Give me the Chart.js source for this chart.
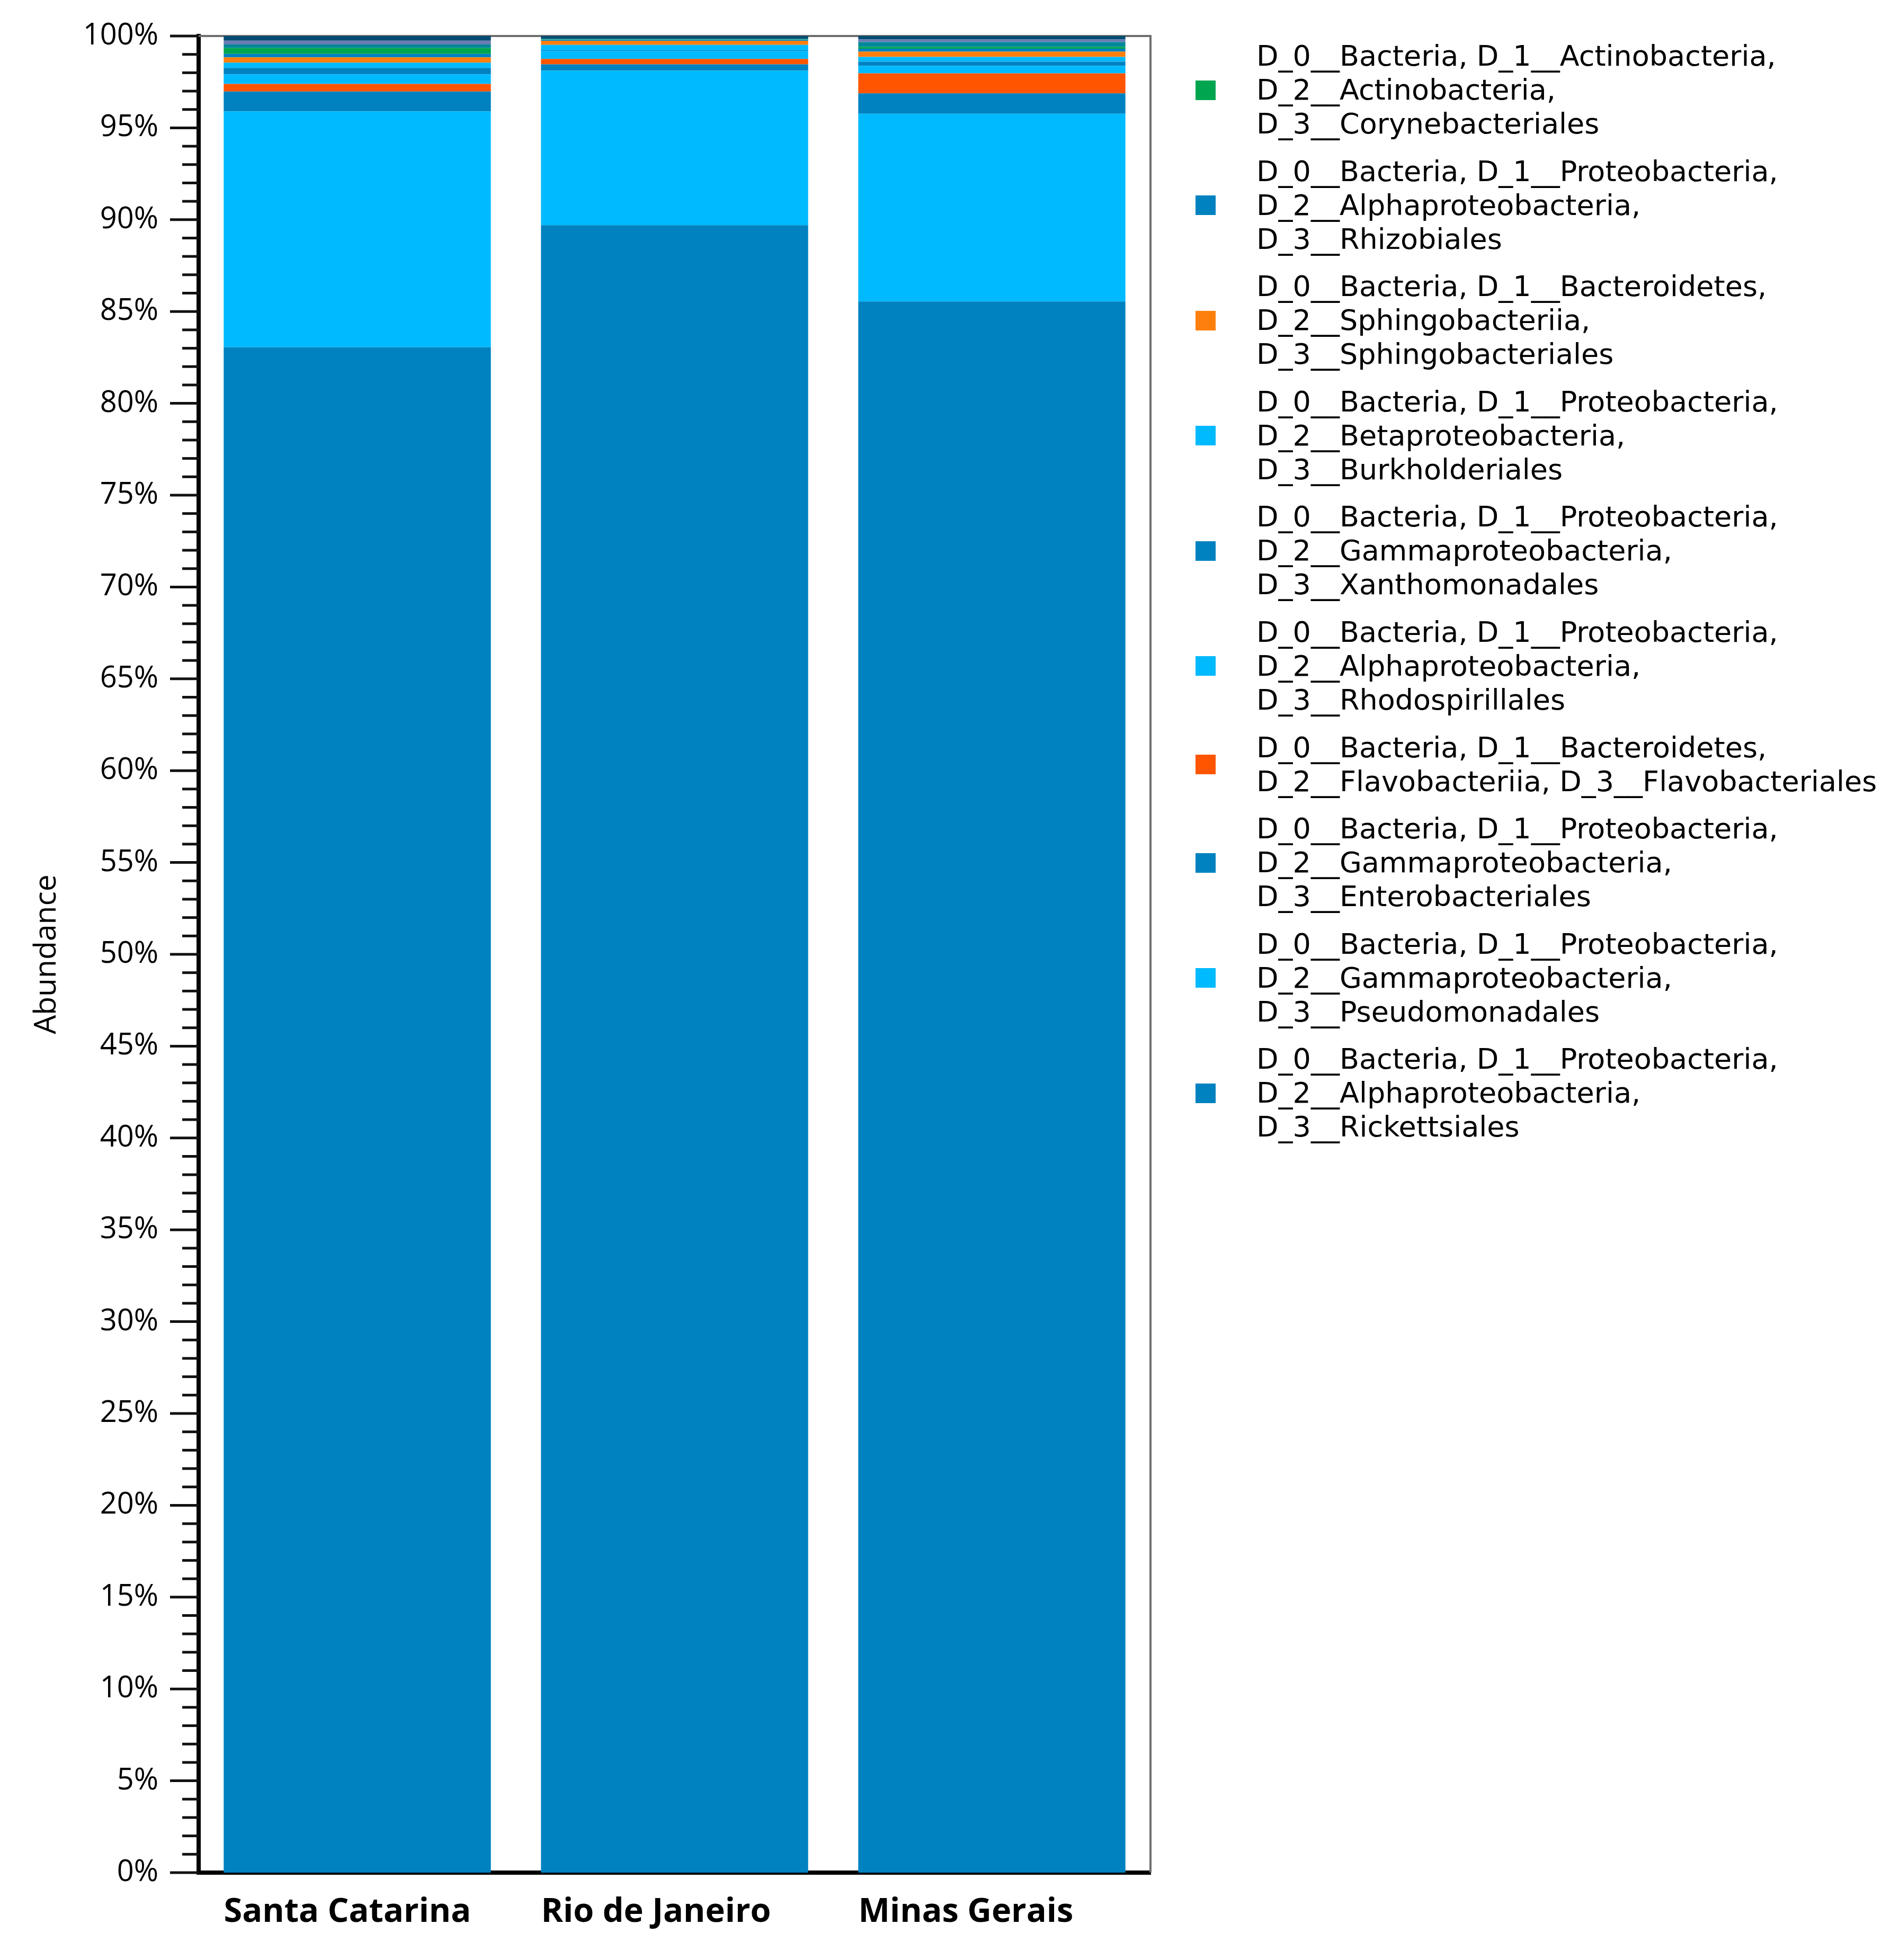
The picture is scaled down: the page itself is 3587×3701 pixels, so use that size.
<!DOCTYPE html>
<html>
<head>
<meta charset="utf-8">
<script src="https://cdn.jsdelivr.net/npm/chart.js@4.4.1/dist/chart.umd.min.js"></script>
<style>
  html, body { margin: 0; padding: 0; background: #fff; }
  #wrap { position: relative; width: 3587px; height: 3701px; }
  #legend {
    position: absolute; left: 2257px; top: 74px;
    font-family: 'DejaVu Sans', sans-serif; font-size: 54px; color: #000;
  }
  .item { display: flex; align-items: center; margin-bottom: 25.6px; }
  .swatch { width: 38px; height: 37px; flex: none; margin-right: 77px; }
  .lines div { line-height: 64px; height: 64px; white-space: nowrap; }
</style>
</head>
<body>
<div id="wrap">
  <canvas id="chart"></canvas>
  <div id="legend"></div>
</div>
<script>
// regions on the x axis
const regions = ['Santa Catarina', 'Rio de Janeiro', 'Minas Gerais'];

// relative abundance (%) per order, bottom to top
const rickettsiales     = [83.05, 89.70, 85.55];
const pseudomonadales   = [12.85,  8.42, 10.22];
const enterobacteriales = [ 1.08,  0.34,  1.11];
const flavobacteriales  = [ 0.41,  0.29,  1.09];
const rhodospirillales  = [ 0.53,  0.43,  0.41];
const xanthomonadales   = [ 0.34,  0.04,  0.22];
const burkholderiales   = [ 0.29,  0.30,  0.26];
const sphingobacteriales= [ 0.29,  0.22,  0.29];
const rhizobiales       = [ 0.19,  0.05,  0.16];
const corynebacteriales = [ 0.32,  0.03,  0.10];
// small orders at the top of the bars that are not in the legend
const otherA = [0.19, 0.02, 0.26];
const otherB = [0.21, 0.00, 0.15];
const otherC = [0.25, 0.16, 0.18];

const yTicks = [0, 5, 10, 15, 20, 25, 30, 35, 40, 45, 50, 55, 60, 65, 70, 75, 80, 85, 90, 95, 100];

const BLUE = '#0082c0', LIGHT = '#00baff', RED = '#ff5500', ORANGE = '#ff7f0e', GREEN = '#00a550';

const series = [
  { lines: ['D_0__Bacteria, D_1__Proteobacteria,', 'D_2__Alphaproteobacteria,', 'D_3__Rickettsiales'], data: rickettsiales, color: BLUE },
  { lines: ['D_0__Bacteria, D_1__Proteobacteria,', 'D_2__Gammaproteobacteria,', 'D_3__Pseudomonadales'], data: pseudomonadales, color: LIGHT },
  { lines: ['D_0__Bacteria, D_1__Proteobacteria,', 'D_2__Gammaproteobacteria,', 'D_3__Enterobacteriales'], data: enterobacteriales, color: BLUE },
  { lines: ['D_0__Bacteria, D_1__Bacteroidetes,', 'D_2__Flavobacteriia, D_3__Flavobacteriales'], data: flavobacteriales, color: RED },
  { lines: ['D_0__Bacteria, D_1__Proteobacteria,', 'D_2__Alphaproteobacteria,', 'D_3__Rhodospirillales'], data: rhodospirillales, color: LIGHT },
  { lines: ['D_0__Bacteria, D_1__Proteobacteria,', 'D_2__Gammaproteobacteria,', 'D_3__Xanthomonadales'], data: xanthomonadales, color: BLUE },
  { lines: ['D_0__Bacteria, D_1__Proteobacteria,', 'D_2__Betaproteobacteria,', 'D_3__Burkholderiales'], data: burkholderiales, color: LIGHT },
  { lines: ['D_0__Bacteria, D_1__Bacteroidetes,', 'D_2__Sphingobacteriia,', 'D_3__Sphingobacteriales'], data: sphingobacteriales, color: ORANGE },
  { lines: ['D_0__Bacteria, D_1__Proteobacteria,', 'D_2__Alphaproteobacteria,', 'D_3__Rhizobiales'], data: rhizobiales, color: BLUE },
  { lines: ['D_0__Bacteria, D_1__Actinobacteria,', 'D_2__Actinobacteria,', 'D_3__Corynebacteriales'], data: corynebacteriales, color: GREEN },
  { lines: null, name: 'Other A', data: otherA, color: '#00889a' },
  { lines: null, name: 'Other B', data: otherB, color: '#6a7db5' },
  { lines: null, name: 'Other C', data: otherC, color: '#004b72' }
];

// minor/major ticks and the thin top/right frame
const axisMarks = {
  id: 'axisMarks',
  beforeDatasetsDraw(chart) {
    const { ctx, chartArea: a } = chart;
    ctx.save();
    ctx.strokeStyle = '#6e6e6e';
    ctx.lineWidth = 4;
    ctx.beginPath();
    ctx.moveTo(a.left, a.top);
    ctx.lineTo(a.right, a.top);
    ctx.lineTo(a.right, a.bottom);
    ctx.stroke();
    ctx.restore();
  },
  afterDraw(chart) {
    const { ctx, chartArea: a } = chart;
    const y = chart.scales.y;
    ctx.save();
    ctx.strokeStyle = '#111';
    ctx.lineWidth = 5;
    for (let v = 0; v <= 100; v++) {
      const py = y.getPixelForValue(v);
      const len = v % 5 === 0 ? 54 : 31;
      ctx.beginPath();
      ctx.moveTo(a.left - len, py);
      ctx.lineTo(a.left, py);
      ctx.stroke();
    }
    ctx.restore();
  }
};

Chart.defaults.font.family = "'Open Sans', sans-serif";
Chart.defaults.color = '#000';

const chart = new Chart(document.getElementById('chart'), {
  type: 'bar',
  data: {
    labels: regions,
    datasets: series.map(s => ({
      label: s.lines ? s.lines.join(' ') : s.name,
      data: s.data,
      backgroundColor: s.color,
      borderWidth: 0,
      categoryPercentage: 1,
      barPercentage: 0.842
    }))
  },
  options: {
    responsive: true,
    maintainAspectRatio: false,
    devicePixelRatio: 1,
    animation: false,
    layout: { padding: { top: 68, right: 1415, left: 0, bottom: 0 } },
    plugins: { legend: { display: false }, tooltip: { enabled: false } },
    scales: {
      x: {
        stacked: true,
        grid: { display: false, drawTicks: false },
        border: { display: true, color: '#000', width: 8 },
        ticks: { padding: 37, align: 'start', labelOffset: -252, font: { size: 63, weight: 'bold' } },
        afterFit(scale) { scale.height = 165; }
      },
      y: {
        stacked: true,
        min: 0,
        max: 100,
        afterBuildTicks(scale) { scale.ticks = yTicks.map(v => ({ value: v })); },
        grid: { display: false, drawTicks: false },
        border: { display: true, color: '#000', width: 8 },
        ticks: { padding: 76, autoSkip: false, font: { size: 56 }, callback: v => v + '%' },
        title: { display: true, text: 'Abundance', font: { size: 57 }, padding: { top: 55, bottom: 0 } },
        afterFit(scale) {
          scale.width = 375;
          scale.paddingTop = 0;
          scale.paddingBottom = 0;
        }
      }
    }
  },
  plugins: [axisMarks]
});

// legend: top of the stack first, only the named orders
const legend = document.getElementById('legend');
series.filter(s => s.lines).reverse().forEach(s => {
  const item = document.createElement('div');
  item.className = 'item';
  const sw = document.createElement('div');
  sw.className = 'swatch';
  sw.style.background = s.color;
  const txt = document.createElement('div');
  txt.className = 'lines';
  s.lines.forEach(l => {
    const d = document.createElement('div');
    d.textContent = l;
    txt.appendChild(d);
  });
  item.appendChild(sw);
  item.appendChild(txt);
  legend.appendChild(item);
});
</script>
</body>
</html>
